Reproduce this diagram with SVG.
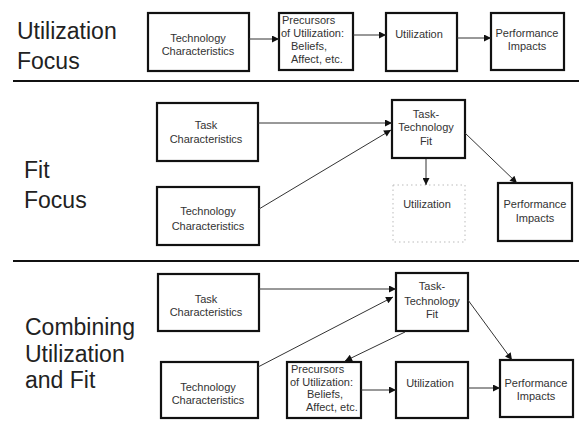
<svg xmlns="http://www.w3.org/2000/svg" width="579" height="426" viewBox="0 0 579 426">
<style>
.box{fill:#fff;stroke:#111;stroke-width:2.2}
.dot{fill:none;stroke:#bbb;stroke-width:1;stroke-dasharray:1.5 3}
.t{font-family:"Liberation Sans",Arial,sans-serif;font-size:11px;fill:#333;text-anchor:middle}
.tl{font-family:"Liberation Sans",Arial,sans-serif;font-size:11px;fill:#333}
.big{font-family:"Liberation Sans",Arial,sans-serif;font-size:23px;fill:#222}
.c{stroke:#333;stroke-width:1;fill:none;marker-end:url(#ah)}
.div{stroke:#111;stroke-width:2}
</style>
<defs>
<marker id="ah" viewBox="0 0 10 10" refX="10" refY="5" markerWidth="11" markerHeight="7" markerUnits="userSpaceOnUse" orient="auto">
<path d="M0,0 L10,5 L0,10 z" fill="#111"/>
</marker>
</defs>
<rect width="579" height="426" fill="#fff"/>

<g id="labels">
<text class="big" x="17" y="39">Utilization</text>
<text class="big" x="17" y="69">Focus</text>
<text class="big" x="24" y="178">Fit</text>
<text class="big" x="24" y="208">Focus</text>
<text class="big" x="25" y="335">Combining</text>
<text class="big" x="25" y="362">Utilization</text>
<text class="big" x="25" y="388">and Fit</text>
</g>

<g id="dividers">
<line class="div" x1="13" y1="81" x2="579" y2="81"/>
<line class="div" x1="13" y1="261" x2="579" y2="261"/>
</g>

<!-- Section 1 -->
<g id="s1-tech"><rect class="box" x="148" y="13" width="101" height="58"/>
<text class="t" x="198" y="42">Technology</text><text class="t" x="198" y="55">Characteristics</text></g>
<g id="s1-prec"><rect class="box" x="279" y="13" width="74" height="57"/>
<text class="tl" x="282" y="24">Precursors</text><text class="tl" x="281" y="37">of Utilization:</text>
<text class="tl" x="291" y="50">Beliefs,</text><text class="tl" x="291" y="63">Affect, etc.</text></g>
<g id="s1-util"><rect class="box" x="386" y="13" width="71" height="58"/>
<text class="t" x="419" y="38">Utilization</text></g>
<g id="s1-perf"><rect class="box" x="491" y="13" width="73" height="57"/>
<text class="t" x="527" y="37">Performance</text><text class="t" x="527" y="50">Impacts</text></g>

<!-- Section 2 -->
<g id="s2-task"><rect class="box" x="157" y="103" width="101" height="58"/>
<text class="t" x="206" y="129">Task</text><text class="t" x="206" y="143">Characteristics</text></g>
<g id="s2-tech"><rect class="box" x="157" y="187" width="102" height="58"/>
<text class="t" x="208" y="215">Technology</text><text class="t" x="208" y="230">Characteristics</text></g>
<g id="s2-ttf"><rect class="box" x="392" y="100" width="73" height="58"/>
<text class="t" x="426" y="118">Task-</text><text class="t" x="426" y="131">Technology</text><text class="t" x="426" y="145">Fit</text></g>
<g id="s2-util"><rect class="dot" x="393" y="185" width="72" height="57"/>
<text class="t" x="427" y="208">Utilization</text></g>
<g id="s2-perf"><rect class="box" x="498" y="183" width="74" height="58"/>
<text class="t" x="535" y="208">Performance</text><text class="t" x="535" y="222">Impacts</text></g>

<!-- Section 3 -->
<g id="s3-task"><rect class="box" x="158" y="274" width="101" height="57"/>
<text class="t" x="206" y="303">Task</text><text class="t" x="206" y="316">Characteristics</text></g>
<g id="s3-tech"><rect class="box" x="161" y="362" width="97" height="56"/>
<text class="t" x="208" y="391">Technology</text><text class="t" x="208" y="404">Characteristics</text></g>
<g id="s3-ttf"><rect class="box" x="396" y="273" width="72" height="58"/>
<text class="t" x="432" y="290">Task-</text><text class="t" x="432" y="305">Technology</text><text class="t" x="432" y="318">Fit</text></g>
<g id="s3-prec"><rect class="box" x="287" y="362" width="74" height="56"/>
<text class="tl" x="291" y="373">Precursors</text><text class="tl" x="290" y="386">of Utilization:</text>
<text class="tl" x="307" y="398">Beliefs,</text><text class="tl" x="306" y="411">Affect, etc.</text></g>
<g id="s3-util"><rect class="box" x="396" y="362" width="72" height="56"/>
<text class="t" x="430" y="387">Utilization</text></g>
<g id="s3-perf"><rect class="box" x="500" y="360" width="73" height="57"/>
<text class="t" x="536" y="387">Performance</text><text class="t" x="536" y="400">Impacts</text></g>

<g id="connectors">
<line class="c" x1="249" y1="39" x2="279" y2="39"/>
<line class="c" x1="353" y1="35" x2="386" y2="35"/>
<line class="c" x1="457" y1="38" x2="491" y2="38"/>

<line class="c" x1="258" y1="123" x2="392" y2="123"/>
<line class="c" x1="259" y1="209" x2="391" y2="130"/>
<line class="c" x1="426" y1="159" x2="426" y2="185"/>
<line class="c" x1="465" y1="133" x2="517" y2="183"/>

<line class="c" x1="259" y1="289" x2="396" y2="289"/>
<line class="c" x1="258" y1="367" x2="393" y2="297"/>
<line class="c" x1="405" y1="332" x2="345" y2="361"/>
<line class="c" x1="361" y1="390" x2="396" y2="390"/>
<line class="c" x1="468" y1="388" x2="500" y2="388"/>
<line class="c" x1="468" y1="300" x2="512" y2="360"/>
</g>
</svg>
